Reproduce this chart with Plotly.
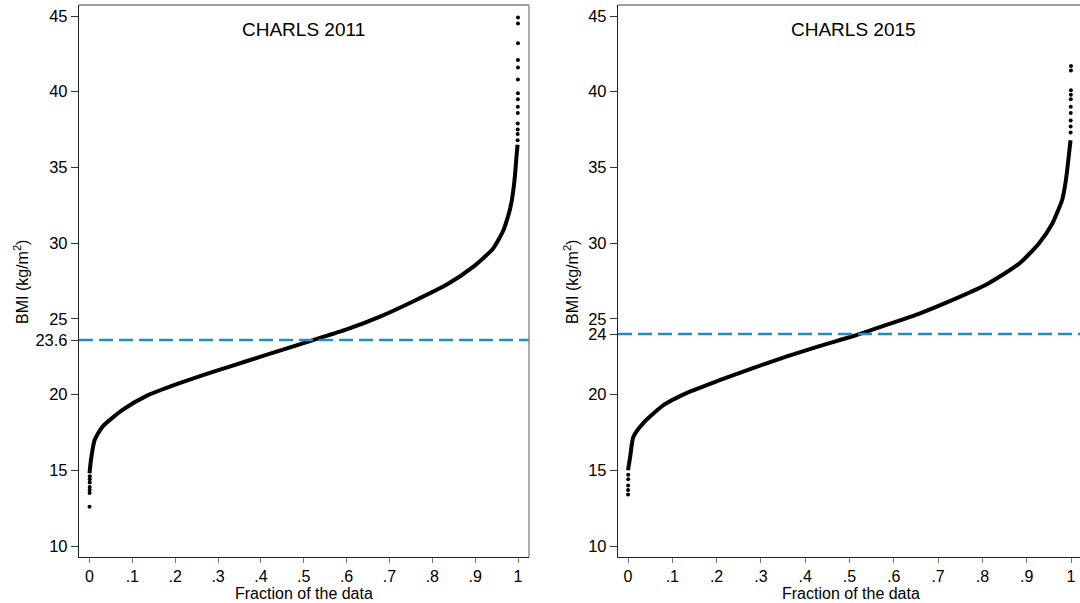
import plotly.graph_objects as go

# ---- data (sorted BMI vs fraction of the data) ----
frac_2011 = [0.0, 0.004, 0.012, 0.031, 0.078, 0.132, 0.21, 0.288, 0.366, 0.444, 0.522,
             0.60, 0.678, 0.755, 0.833, 0.896, 0.942, 0.966, 0.975, 0.981, 0.986, 0.990,
             0.993, 0.995, 0.997, 0.999]
bmi_2011 = [14.8, 15.8, 17.0, 17.9, 19.0, 19.9, 20.75, 21.5, 22.2, 22.9, 23.6,
            24.3, 25.15, 26.15, 27.25, 28.45, 29.65, 30.85, 31.6, 32.2, 32.9, 33.7,
            34.5, 35.2, 35.9, 36.5]
low_frac_2011 = [0.0001, 0.0002, 0.0003, 0.0004, 0.0005, 0.0006, 0.0007]
low_bmi_2011 = [12.6, 13.5, 13.7, 13.9, 14.2, 14.4, 14.6]
high_frac_2011 = [0.9991, 0.9992, 0.9993, 0.9994, 0.9995, 0.9996, 0.9997, 0.9998,
                  0.9998, 0.9999, 0.9999, 1.0, 1.0, 1.0]
high_bmi_2011 = [36.8, 37.2, 37.5, 37.9, 38.6, 39.0, 39.5, 39.9, 40.8, 41.6, 42.1, 43.2, 44.5, 44.9]

frac_2015 = [0.0, 0.0045, 0.012, 0.034, 0.08, 0.132, 0.207, 0.282, 0.357, 0.432, 0.507,
             0.583, 0.658, 0.733, 0.808, 0.883, 0.928, 0.958, 0.970, 0.980, 0.986, 0.990,
             0.994, 0.997, 0.999]
bmi_2015 = [15.0, 15.8, 17.2, 18.1, 19.3, 20.1, 20.95, 21.75, 22.5, 23.2, 23.85,
            24.6, 25.35, 26.25, 27.25, 28.65, 30.0, 31.3, 32.1, 32.85, 33.7, 34.5,
            35.5, 36.3, 36.8]
low_frac_2015 = [0.0001, 0.0002, 0.0003, 0.0004, 0.0005]
low_bmi_2015 = [13.4, 13.7, 14.0, 14.4, 14.7]
high_frac_2015 = [0.9991, 0.9992, 0.9993, 0.9994, 0.9995, 0.9996, 0.9997, 0.9998, 0.9999, 1.0]
high_bmi_2015 = [37.3, 37.7, 38.1, 38.6, 39.0, 39.5, 39.8, 40.1, 41.4, 41.7]

ref_2011 = 23.6
ref_2015 = 24.0

x_tickvals = [0, 0.1, 0.2, 0.3, 0.4, 0.5, 0.6, 0.7, 0.8, 0.9, 1]
x_ticktext = ["0", ".1", ".2", ".3", ".4", ".5", ".6", ".7", ".8", ".9", "1"]
y_tickvals_2011 = [10, 15, 20, 23.6, 25, 30, 35, 40, 45]
y_ticktext_2011 = ["10", "15", "20", "23.6", "25", "30", "35", "40", "45"]
y_tickvals_2015 = [10, 15, 20, 24, 25, 30, 35, 40, 45]
y_ticktext_2015 = ["10", "15", "20", "24", "25", "30", "35", "40", "45"]

FONT = "Liberation Sans, Arial, sans-serif"
W, H = 1080, 603

fig = go.Figure()

def add_panel(xa, ya, fr, bm, lf, lb, hf, hb):
    fig.add_trace(go.Scatter(x=fr, y=bm, mode="lines",
                             line=dict(color="black", width=4, shape="spline", smoothing=0.6),
                             xaxis=xa, yaxis=ya, showlegend=False, hoverinfo="skip"))
    fig.add_trace(go.Scatter(x=lf + hf, y=lb + hb, mode="markers",
                             marker=dict(color="black", size=4), xaxis=xa, yaxis=ya,
                             showlegend=False, hoverinfo="skip"))

add_panel("x", "y", frac_2011, bmi_2011, low_frac_2011, low_bmi_2011, high_frac_2011, high_bmi_2011)
add_panel("x2", "y2", frac_2015, bmi_2015, low_frac_2015, low_bmi_2015, high_frac_2015, high_bmi_2015)

ydom = [1 - 557 / H, 1 - 5 / H]
yrange = [10 - 11 / 15.143, 45 + 11 / 15.143]

common_x = dict(showgrid=False, zeroline=False, showline=True, linecolor="#222222", linewidth=1.3,
                ticks="outside", ticklen=5, tickcolor="#777777", tickwidth=1.3,
                tickvals=x_tickvals, ticktext=x_ticktext,
                tickfont=dict(family=FONT, size=16, color="black"))
common_y = dict(showgrid=False, zeroline=False, showline=True, linecolor="#222222", linewidth=1.3,
                ticks="outside", ticklen=7, tickcolor="#333333", tickwidth=1.3,
                range=yrange, domain=ydom,
                tickfont=dict(family=FONT, size=16.5, color="black"))

fig.update_layout(
    width=W, height=H,
    margin=dict(l=0, r=0, t=0, b=0),
    paper_bgcolor="white", plot_bgcolor="white",
    xaxis=dict(common_x, domain=[79 / W, 529 / W], range=[-10.5 / 428.5, 1 + 11 / 428.5], anchor="y"),
    yaxis=dict(common_y, tickvals=y_tickvals_2011, ticktext=y_ticktext_2011, anchor="x"),
    xaxis2=dict(common_x, domain=[618 / W, 1.0], range=[-10 / 443, 1 + 9 / 443], anchor="y2"),
    yaxis2=dict(common_y, tickvals=y_tickvals_2015, ticktext=y_ticktext_2015, anchor="x2"),
)

# reference dashed lines
for xr, yr, val in [("x", "y", ref_2011), ("x2", "y2", ref_2015)]:
    fig.add_shape(type="line", xref=xr + " domain", yref=yr, x0=0, x1=1, y0=val, y1=val,
                  line=dict(color="#1b8fc6", width=2.5, dash="14px,6px"))

# gray top / right frame
fig.add_shape(type="line", xref="paper", yref="paper", x0=79 / W, x1=529 / W, y0=ydom[1], y1=ydom[1],
              line=dict(color="#808080", width=1.3))
fig.add_shape(type="line", xref="paper", yref="paper", x0=529 / W, x1=529 / W, y0=ydom[0], y1=ydom[1],
              line=dict(color="#808080", width=1.3))
fig.add_shape(type="line", xref="paper", yref="paper", x0=618 / W, x1=1.0, y0=ydom[1], y1=ydom[1],
              line=dict(color="#808080", width=1.3))

ann = []
for cx, txt in [(303, "CHARLS 2011"), (853, "CHARLS 2015")]:
    ann.append(dict(text=txt, x=cx / W, y=1 - 29 / H, xref="paper", yref="paper",
                    xanchor="center", yanchor="middle",
                    showarrow=False, font=dict(family=FONT, size=19, color="black")))
for cx in [304, 851]:
    ann.append(dict(text="Fraction of the data", x=cx / W, y=1 - 593 / H, xref="paper", yref="paper",
                    xanchor="center", yanchor="middle",
                    showarrow=False, font=dict(family=FONT, size=16, color="black")))
for cx in [21, 571]:
    ann.append(dict(text="BMI (kg/m<sup>2</sup>)", x=cx / W, y=1 - 282 / H, xref="paper", yref="paper",
                    xanchor="center", yanchor="middle",
                    showarrow=False, textangle=-90, font=dict(family=FONT, size=16, color="black")))
fig.update_layout(annotations=ann)

fig.write_html("out.html")
